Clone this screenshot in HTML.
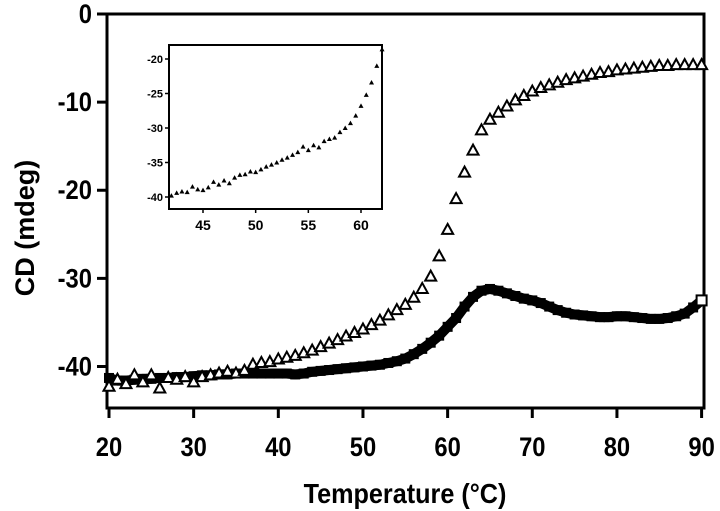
<!DOCTYPE html>
<html><head><meta charset="utf-8"><style>
html,body{margin:0;padding:0;background:#fff;}
svg{display:block;font-family:"Liberation Sans",sans-serif;font-weight:bold;}
</style></head><body>
<svg id="chart" width="720" height="511" viewBox="0 0 720 511"></svg>
<script>
const xTicks=[20,30,40,50,60,70,80,90];
const yTicks=[0,-10,-20,-30,-40];
const tempT=[20,21,22,23,24,25,26,27,28,29,30,31,32,33,34,35,36,37,38,39,40,41,42,43,44,45,46,47,48,49,50,51,52,53,54,55,56,57,58,59,60,61,62,63,64,65,66,67,68,69,70,71,72,73,74,75,76,77,78,79,80,81,82,83,84,85,86,87,88,89,90];
const cdTriangle=[-42.3,-41.5,-42,-41,-41.8,-41,-42.5,-41.3,-41.5,-41.2,-41.8,-41.2,-41,-40.8,-40.6,-40.8,-40.5,-39.8,-39.6,-39.5,-39.2,-39,-38.8,-38.5,-38.2,-37.8,-37.4,-37,-36.6,-36.2,-35.8,-35.3,-34.8,-34.2,-33.6,-33,-32.2,-31.2,-29.8,-27.5,-24.5,-21,-18,-15.5,-13.2,-12,-11.2,-10.5,-9.8,-9.3,-8.8,-8.4,-8.1,-7.8,-7.5,-7.3,-7.1,-6.9,-6.7,-6.6,-6.4,-6.3,-6.2,-6.1,-6,-5.9,-5.9,-5.8,-5.8,-5.8,-5.8];
const cdSquare=[-41.3,-41.6,-41.6,-41.5,-41.4,-41.4,-41.3,-41.3,-41.2,-41.2,-41.1,-41,-41,-40.9,-40.9,-40.8,-40.8,-40.8,-40.8,-40.8,-40.8,-40.8,-40.9,-40.8,-40.6,-40.5,-40.4,-40.3,-40.2,-40.1,-40,-39.9,-39.8,-39.6,-39.4,-39.1,-38.6,-38,-37.3,-36.5,-35.5,-34.5,-33.2,-32.1,-31.4,-31.2,-31.4,-31.7,-32,-32.3,-32.5,-32.8,-33.2,-33.6,-33.9,-34.1,-34.2,-34.3,-34.4,-34.4,-34.3,-34.3,-34.4,-34.5,-34.6,-34.6,-34.5,-34.3,-34,-33.3,-32.5];
const insetXTicks=[45,50,55,60];
const insetYTicks=[-20,-25,-30,-35,-40];
const insetTemp=[42,42.5,43,43.5,44,44.5,45,45.5,46,46.5,47,47.5,48,48.5,49,49.5,50,50.5,51,51.5,52,52.5,53,53.5,54,54.5,55,55.5,56,56.5,57,57.5,58,58.5,59,59.5,60,60.5,61,61.5,62];
const insetCD=[-39.8,-39.4,-39.2,-39.3,-38.5,-38.9,-39.0,-38.6,-37.8,-38.2,-37.6,-38.0,-37.2,-36.8,-36.7,-36.3,-36.4,-36.0,-35.6,-35.3,-35.0,-34.6,-34.3,-33.9,-33.5,-32.7,-33.2,-32.5,-32.8,-31.9,-31.6,-31.4,-30.6,-30.0,-29.3,-28.2,-26.8,-25.2,-23.4,-21.0,-18.6];

const NS="http://www.w3.org/2000/svg";
const svg=document.getElementById('chart');
function mk(tag,attrs,parent){const e=document.createElementNS(NS,tag);for(const k in attrs)e.setAttribute(k,attrs[k]);(parent||svg).appendChild(e);return e;}
const X=v=>109+(v-20)*(701.6-109)/70;
const Y=v=>14+(0-v)*(366.5-14)/40;
const IX=v=>203+(v-45)*(361-203)/15;
const IY=v=>59+(-20-v)*(197-59)/20;

let e;
e=mk('path',{d:`M107,14 V408 H704 V14 H107`,fill:'none',stroke:'#000','stroke-width':3});

yTicks.forEach(t=>{
  e=mk('line',{x1:97,x2:107,y1:Y(t),y2:Y(t),stroke:'#000','stroke-width':3});
  
  e=mk('text',{x:92,y:Y(t)+9,'text-anchor':'end','font-size':27,transform:`translate(${92*0.12},0) scale(0.88,1)`});e.textContent=t;
  
});
xTicks.forEach(t=>{
  e=mk('line',{x1:X(t),x2:X(t),y1:408,y2:418,stroke:'#000','stroke-width':3});
  
  e=mk('text',{x:X(t),y:456,'text-anchor':'middle','font-size':27,transform:`translate(${X(t)*0.12},0) scale(0.88,1)`});e.textContent=t;
  
});
e=mk('text',{x:405,y:503,'text-anchor':'middle','font-size':28,transform:`translate(${405*0.1},0) scale(0.9,1)`});e.textContent='Temperature (°C)';

e=mk('text',{x:0,y:0,'text-anchor':'middle','font-size':27,transform:'translate(34,228) rotate(-90)'});e.textContent='CD (mdeg)';


// square series (dense markers form a thick band)
const g2=mk('g',{});

e=mk('polyline',{points:tempT.map((t,i)=>X(t)+','+Y(cdSquare[i])).join(' '),fill:'none',stroke:'#000','stroke-width':10,'stroke-linejoin':'round','stroke-linecap':'round'},g2);

tempT.forEach((t,i)=>{
  e=mk('rect',{x:X(t)-4.5,y:Y(cdSquare[i])-4.5,width:9,height:9,fill:'#000',stroke:'#000','stroke-width':1},g2);
  
});
e=mk('rect',{x:X(90)-5,y:Y(cdSquare[cdSquare.length-1])-5,width:10,height:10,fill:'#fff',stroke:'#000','stroke-width':2},g2);


// triangle series
const g1=mk('g',{});

tempT.forEach((t,i)=>{
  const x=X(t),y=Y(cdTriangle[i]);
  e=mk('path',{d:`M${x},${y-6} L${x+5.5},${y+4} L${x-5.5},${y+4} Z`,fill:'#fff',stroke:'#000','stroke-width':2},g1);
  
});

// inset
const gi=mk('g',{});

e=mk('rect',{x:169,y:45,width:213,height:164,fill:'#fff',stroke:'#000','stroke-width':2},gi);

insetYTicks.forEach(t=>{
  e=mk('line',{x1:165,x2:169,y1:IY(t),y2:IY(t),stroke:'#000','stroke-width':1.5},gi);
  
  e=mk('text',{x:163,y:IY(t)+4,'text-anchor':'end','font-size':11},gi);e.textContent=t;
  
});
insetXTicks.forEach(t=>{
  e=mk('line',{x1:IX(t),x2:IX(t),y1:209,y2:213,stroke:'#000','stroke-width':1.5},gi);
  
  e=mk('text',{x:IX(t),y:230,'text-anchor':'middle','font-size':14},gi);e.textContent=t;
  
});
insetTemp.forEach((t,i)=>{
  const x=IX(t),y=IY(insetCD[i]);
  e=mk('path',{d:`M${x},${y-2.5} L${x+2.5},${y+2} L${x-2.5},${y+2} Z`,fill:'#000'},gi);
  
});
</script>
</body></html>
